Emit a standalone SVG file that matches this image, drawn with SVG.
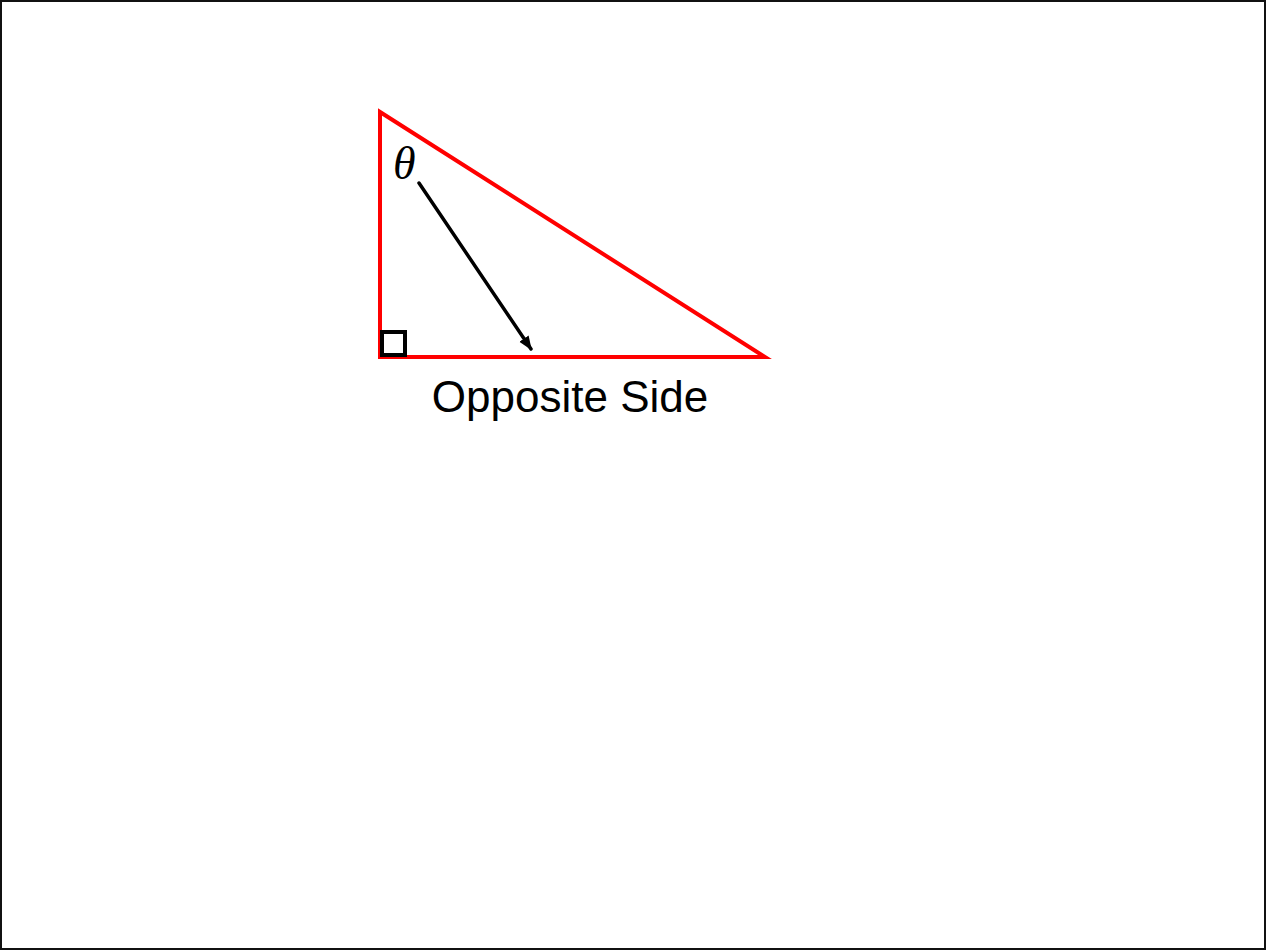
<svg xmlns="http://www.w3.org/2000/svg" width="1266" height="950" viewBox="0 0 1266 950">
<style>
.tri{fill:none;stroke:#ff0000;stroke-width:4}
.blk{fill:none;stroke:#000;stroke-width:4}
.lbl{font-family:"Liberation Sans",Arial,sans-serif;font-size:44px;fill:#000}
.th{font-family:"Liberation Serif","Times New Roman",serif;font-style:italic;font-size:46px;fill:#000}
</style>
<defs>
<marker id="ah" viewBox="0 0 10 10" refX="9" refY="5" markerWidth="4" markerHeight="4" orient="auto" markerUnits="strokeWidth">
<path d="M0,1 L10,5 L0,9 z" fill="#000"/>
</marker>
</defs>
<rect x="1" y="1" width="1264" height="948" fill="#fff" stroke="#111" stroke-width="2"/>
<g id="triangle">
<polygon class="tri" points="380,112 380,357 765,357"/>
<rect class="blk" x="382" y="332" width="23" height="23"/>
<text class="th" x="393" y="179">θ</text>
</g>
<g id="connectors">
<line x1="419" y1="183" x2="531" y2="349" stroke="#000" stroke-width="3.5" stroke-linecap="round" marker-end="url(#ah)"/>
</g>
<g id="label">
<text class="lbl" x="570" y="412" text-anchor="middle">Opposite Side</text>
</g>
</svg>
